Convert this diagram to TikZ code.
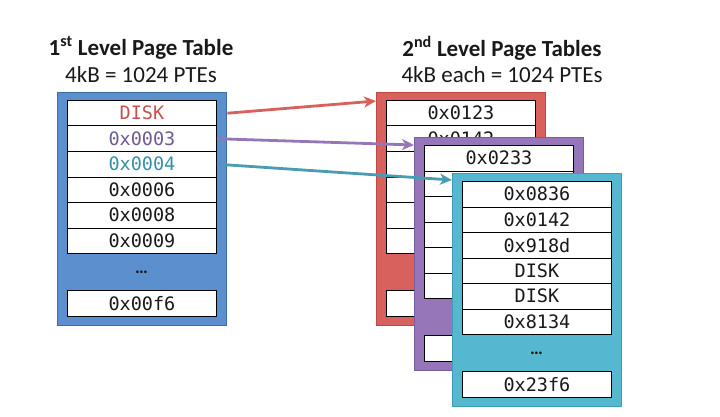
\documentclass[tikz,border=0pt]{standalone}
\usepackage{fontspec}
\setmainfont{Carlito}
\setmonofont{DejaVu Sans Mono}
\usetikzlibrary{calc,arrows.meta}
\definecolor{bluef}{RGB}{92,143,206}
\definecolor{blued}{RGB}{62,108,165}
\definecolor{redf}{RGB}{217,97,93}
\definecolor{redd}{RGB}{190,72,68}
\definecolor{purf}{RGB}{150,118,185}
\definecolor{purd}{RGB}{120,92,158}
\definecolor{cyaf}{RGB}{86,184,208}
\definecolor{cyad}{RGB}{62,158,184}
\definecolor{redt}{RGB}{196,82,78}
\definecolor{purt}{RGB}{112,90,150}
\definecolor{cyat}{RGB}{52,145,166}
\definecolor{txt}{RGB}{25,25,25}
\tikzset{
  tbox/.style={draw, line width=1.4pt, minimum width=169pt, minimum height=233pt, inner sep=0pt, anchor=north west},
  cell/.style={draw=black, line width=0.9pt, fill=white, minimum width=149pt, minimum height=25.5pt, inner sep=0pt, anchor=north west, text=txt, font=\fontsize{18.5}{18.5}\selectfont\ttfamily},
  ptr/.style={line width=2.8pt, -{Stealth[length=12pt,width=11pt,inset=3.5pt]}},
  title/.style={font=\fontsize{23}{23}\selectfont\bfseries, text=txt},
  sub/.style={font=\fontsize{23}{23}\selectfont, text=txt},
  dots/.style={font=\fontsize{18}{18}\selectfont\bfseries, text=txt}
}
\newcommand\pgtable[7]{% name, x, y, fill, border, entries, last
  \node[tbox, fill=#4, draw=#5] (#1) at (#2,#3) {};
  \foreach \t [count=\k] in {#6}
    \node[cell] (#1\k) at ($(#1.north west)+(10,8+25.5*\k-25.5)$) {\t};
  \node[dots] (#1d) at ($(#1.north west)+(84.5,180)$) {\ldots};
  \node[cell] (#1l) at ($(#1.north west)+(10,198)$) {#7};
}
\begin{document}
\begin{tikzpicture}[x=1pt,y=-1pt]
\useasboundingbox (0,0) rectangle (720,417);
\node[title] (t1) at (141,48) {1\textsuperscript{st} Level Page Table};
\node[sub] (s1) at (141,75) {4kB = 1024 PTEs};
\node[title] (t2) at (502,48) {2\textsuperscript{nd} Level Page Tables};
\node[sub] (s2) at (502,75) {4kB each = 1024 PTEs};
\pgtable{b}{57}{92}{bluef}{blued}{{\color{redt}DISK},{\color{purt}0x0003},{\color{cyat}0x0004},0x0006,0x0008,0x0009}{0x00f6}
\pgtable{r}{376}{92}{redf}{redd}{0x0123,0x0142,{},{},{},{}}{}
\pgtable{p}{414}{137}{purf}{purd}{0x0233,{},{},{},{},{}}{}
\pgtable{c}{452}{173}{cyaf}{cyad}{0x0836,0x0142,0x918d,DISK,DISK,0x8134}{0x23f6}
\draw[ptr, redf] (b1.east -| b.east) -- ($(r.north west)+(0,9)$);
\draw[ptr, purf] (b2.east) -- ($(p.north west)+(0,8)$);
\draw[ptr, cyaf!85!black] (b3.east) -- ($(c.north west)+(0,7)$);
\end{tikzpicture}
\end{document}
